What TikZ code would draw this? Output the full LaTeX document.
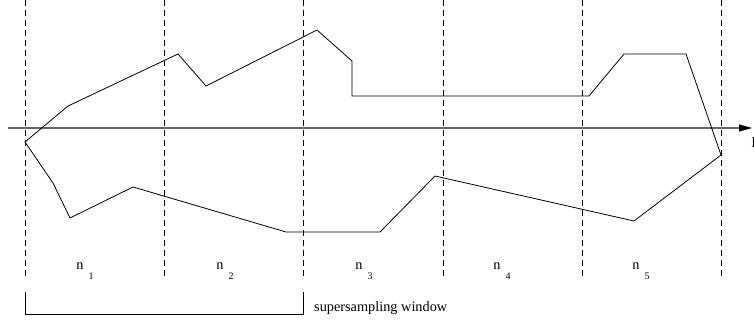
\documentclass[tikz,border=0pt]{standalone}
\usepackage{fontspec}
\setmainfont{Liberation Serif}
\usepackage{tikz}
\usetikzlibrary{arrows.meta,positioning}

\begin{document}
\begin{tikzpicture}[x=1pt, y=-1pt,
  slice/.style={draw=black, dash pattern=on 6pt off 4pt, line width=0.8pt},
  axis/.style={draw=black!60, line width=1.3pt, -{Stealth[length=13pt, width=7pt, inset=0pt, black]}},
  outline/.style={draw=black, line width=0.8pt, line join=miter},
  lbl/.style={inner sep=0pt, font=\fontsize{14.3}{17}\selectfont},
  sub/.style={inner sep=0pt, font=\fontsize{10}{12}\selectfont}
]
\useasboundingbox (0,0) rectangle (754,323);

%% slice borders
\foreach \i/\x in {0/25,1/164,2/303,3/443,4/582,5/721}
  \draw[slice] (\x,0) -- (\x,277);

%% scan axis
\coordinate (ax0) at (8,128);
\coordinate (ax1) at (752,128);
\draw[axis] (ax0) -- (ax1);
\node[lbl, anchor=west] (axlbl) at (751.5,143) {l};

%% polygon
\draw[outline] (25,142) -- (68,106) -- (178,54) -- (206,86) -- (317,30)
  -- (352,61) -- (352,96) -- (589,96) -- (624,54) -- (686,54) -- (721,155)
  -- (634,221) -- (435,176) -- (380,232) -- (286,232) -- (133,187)
  -- (70,218) -- (53,183) -- cycle;

%% slice labels
\foreach \k/\x in {1/80,2/220,3/359,4/497,5/636}{
  \node[lbl] (n\k) at (\x,266) {n};
  \node[sub] (s\k) at (\x+11,276) {\k};
}

%% window
\coordinate (w0) at (25,292);
\coordinate (w1) at (303,292);
\draw[outline] (w0) |- (303,314) -- (w1);
\node[lbl, anchor=west] (win) at (314,308) {supersampling window};

\end{tikzpicture}
\end{document}
